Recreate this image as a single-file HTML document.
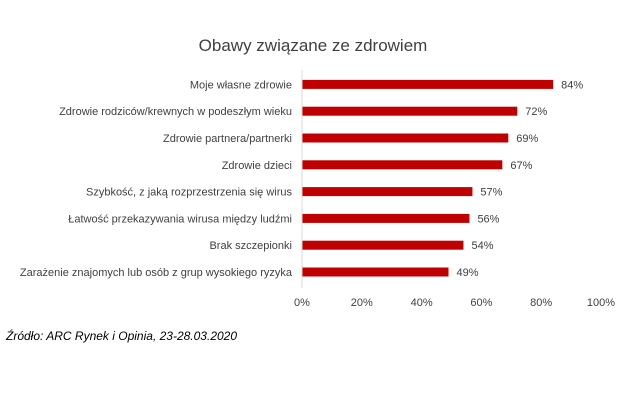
<!DOCTYPE html>
<html><head><meta charset="utf-8"><style>
body{margin:0;background:#fff;width:620px;height:413px;overflow:hidden;font-family:"Liberation Sans",sans-serif}
</style></head><body>
<svg width="620" height="413">
<text x="313" y="51" text-anchor="middle" font-size="17" fill="#404040">Obawy związane ze zdrowiem</text>
<g id="plot"></g>
<text x="6" y="340" font-size="12" font-style="italic" fill="#000">Źródło: ARC Rynek i Opinia, 23-28.03.2020</text>
</svg>
<script>
const categories=["Moje własne zdrowie","Zdrowie rodziców/krewnych w podeszłym wieku","Zdrowie partnera/partnerki","Zdrowie dzieci","Szybkość, z jaką rozprzestrzenia się wirus","Łatwość przekazywania wirusa między ludźmi","Brak szczepionki","Zarażenie znajomych lub osób z grup wysokiego ryzyka"];
const values=[84,72,69,67,57,56,54,49];
const ticks=[0,20,40,60,80,100];
const x0=302,x1=601,yTop=71,step=26.8;
const xs=v=>x0+(x1-x0)*v/100;
const ys=i=>yTop+step*i+step/2;
const ns="http://www.w3.org/2000/svg",g=document.getElementById('plot');
function mk(t,a,txt){const e=document.createElementNS(ns,t);for(const k in a)e.setAttribute(k,a[k]);if(txt!=null)e.textContent=txt;g.appendChild(e);return e;}
categories.forEach((c,i)=>{
 const y=ys(i);
 const b=mk('rect',{x:x0,y:y-4.5,width:xs(values[i])-x0,height:9,fill:'#c00000'});
 
 
 const l=mk('text',{x:292,y:y+4,'text-anchor':'end','font-size':11,fill:'#404040'},c);
 
 
 const v=mk('text',{x:xs(values[i])+8,y:y+4,'font-size':11,fill:'#404040'},values[i]+'%');
 
 
});
const ax=mk('line',{x1:x0,x2:x0,y1:70,y2:288,stroke:'#d9d9d9','stroke-width':1});


ticks.forEach(t=>{
 const e=mk('text',{x:xs(t),y:306,'text-anchor':'middle','font-size':11,fill:'#404040'},t+'%');
 
 
});
</script>
</body></html>
